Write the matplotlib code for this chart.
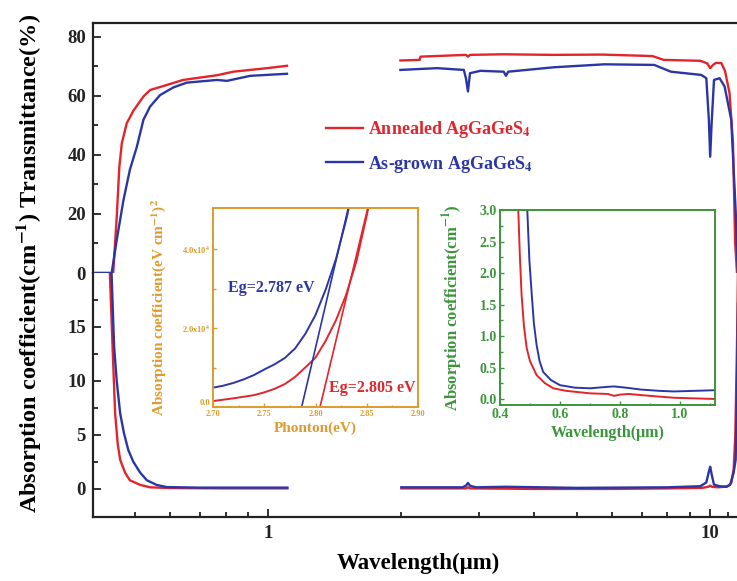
import numpy as np
import matplotlib
matplotlib.use("Agg")
import matplotlib.pyplot as plt
from matplotlib.ticker import FixedLocator, NullFormatter, MultipleLocator

plt.rcParams["font.family"] = ["Liberation Serif", "DejaVu Serif"]
plt.rcParams["font.weight"] = "bold"
plt.rcParams["axes.labelweight"] = "bold"
plt.rcParams["mathtext.fontset"] = "stix"

RED = "#e3242b"
BLUE = "#2b36a6"
ORANGE = "#e09a2c"
GREEN = "#3a963a"

# Transmittance (%), UV-VIS-NIR part
wl_t1_red = [0.40, 0.4455, 0.4538, 0.460, 0.466, 0.478, 0.495, 0.5215, 0.540, 0.589, 0.641, 0.765, 0.833, 0.993, 1.102]
t1_red = [0, 0, 19, 36, 44, 50.7, 55, 59.8, 62, 63.7, 65.4, 67, 68.2, 69.4, 70.2]
wl_t1_blue = [0.40, 0.442, 0.4538, 0.470, 0.486, 0.504, 0.5215, 0.540, 0.569, 0.610, 0.654, 0.765, 0.806, 0.910, 1.102]
t1_blue = [0, 0, 11.2, 24.7, 35, 42.8, 51.9, 56.4, 60.3, 62.9, 64.5, 65.4, 65.1, 66.8, 67.5]

# Transmittance (%), IR part
wl_t2_red = [1.99, 2.2, 2.21, 2.8, 2.83, 2.86, 3.4, 4.4, 5.7, 7.4, 7.85, 9.5, 9.85, 10.0, 10.15,
             10.3, 10.6, 10.8, 11.06, 11.26, 11.39, 11.5, 11.6]
t2_red = [72.0, 72.2, 73.3, 73.9, 73.3, 73.9, 74.1, 73.9, 74.0, 73.5, 72.2, 71.9, 71.0, 69.4, 70.5,
          71.2, 71.1, 68.5, 61, 44, 10, 0, 0]
wl_t2_blue = [1.99, 2.41, 2.77, 2.80, 2.83, 2.86, 3.02, 3.41, 3.45, 3.49, 4.43, 5.76, 7.47, 8.15, 9.55,
              9.8, 9.93, 10.0, 10.07, 10.2, 10.5, 10.78, 11.16, 11.42, 11.55]
t2_blue = [68.8, 69.4, 68.8, 66, 61.5, 67.7, 68.5, 68.2, 66.8, 68.2, 69.7, 70.7, 70.5, 68.2, 67.1,
           66, 52, 39.4, 50, 65.4, 66, 63.2, 51.9, 21, 0]

# Absorption coefficient (cm-1)
wl_a1_red = [0.436, 0.444, 0.450, 0.456, 0.462, 0.474, 0.486, 0.513, 0.540, 0.60, 0.80, 1.104]
a1_red = [22, 13.2, 7.0, 4.2, 2.7, 1.5, 0.8, 0.37, 0.15, 0.08, 0.05, 0.05]
wl_a1_blue = [0.440, 0.4476, 0.4538, 0.462, 0.471, 0.482, 0.495, 0.513, 0.531, 0.559, 0.589, 0.70, 0.90, 1.104]
a1_blue = [22, 13.2, 10, 7.0, 5.2, 3.6, 2.5, 1.5, 0.8, 0.37, 0.17, 0.12, 0.12, 0.12]

wl_a2_red = [2.0, 2.8, 2.83, 2.86, 4.0, 6.0, 8.0, 9.6, 9.9, 10.0, 10.1, 10.4, 10.8, 11.0, 11.16,
             11.3, 11.4, 11.5, 11.6]
a2_red = [0.05, 0.05, 0.15, 0.05, 0.0, 0.0, 0.05, 0.1, 0.2, 0.3, 0.2, 0.15, 0.2, 0.3, 0.55,
          1.8, 5, 13.5, 25]
wl_a2_blue = [2.0, 2.75, 2.8, 2.83, 2.86, 2.95, 3.45, 5.0, 8.0, 9.5, 9.8, 9.93, 10.0, 10.07, 10.2,
              10.5, 10.9, 11.1, 11.3, 11.42, 11.5, 11.6]
a2_blue = [0.15, 0.15, 0.3, 0.55, 0.3, 0.15, 0.2, 0.1, 0.15, 0.25, 0.6, 1.6, 2.05, 1.4, 0.4,
           0.25, 0.2, 0.4, 1.5, 2.7, 10, 22]

# Inset 1: Tauc plot, (alpha h nu)^2 in units of 1e4
e_red = [2.70, 2.72, 2.74, 2.75, 2.76, 2.77, 2.78, 2.79, 2.80, 2.81, 2.82, 2.83, 2.84, 2.85, 2.852]
tauc_red = [0.15, 0.22, 0.30, 0.37, 0.46, 0.58, 0.76, 1.0, 1.25, 1.68, 2.2, 2.85, 3.7, 4.85, 5.1]
e_blue = [2.70, 2.71, 2.72, 2.73, 2.74, 2.75, 2.76, 2.77, 2.78, 2.79, 2.80, 2.81, 2.82, 2.83, 2.833]
tauc_blue = [0.49, 0.54, 0.61, 0.70, 0.81, 0.95, 1.08, 1.24, 1.48, 1.85, 2.33, 2.98, 3.75, 4.75, 5.1]
fit_red_e = [2.8044, 2.851]
fit_red_y = [0.0, 5.04]
fit_blue_e = [2.7865, 2.832]
fit_blue_y = [0.0, 5.04]

# Inset 2: absorption coefficient zoom
wl_in_red = [0.455, 0.461, 0.466, 0.472, 0.48, 0.489, 0.50, 0.522, 0.55, 0.578, 0.62, 0.70, 0.76,
             0.78, 0.80, 0.83, 0.90, 0.98, 1.05, 1.12]
in_red = [3.3, 3.0, 2.3, 1.65, 1.15, 0.81, 0.6, 0.38, 0.25, 0.17, 0.13, 0.09, 0.08,
          0.05, 0.07, 0.08, 0.05, 0.02, 0.01, 0.0]
wl_in_blue = [0.488, 0.491, 0.498, 0.506, 0.513, 0.522, 0.532, 0.544, 0.57, 0.60, 0.65, 0.70, 0.75,
              0.78, 0.82, 0.87, 0.93, 0.98, 1.05, 1.12]
in_blue = [3.3, 3.0, 2.2, 1.65, 1.2, 0.86, 0.6, 0.43, 0.3, 0.22, 0.18, 0.17, 0.19,
           0.2, 0.18, 0.15, 0.13, 0.12, 0.13, 0.14]

fig = plt.figure(figsize=(7.37, 5.81), dpi=100)
W, H = 737.0, 581.0

def box(x0, y0, x1, y1):
    return [x0 / W, 1 - y1 / H, (x1 - x0) / W, (y1 - y0) / H]

ax_t = fig.add_axes(box(93, 23, 739, 273))
ax_b = fig.add_axes(box(93, 273, 739, 517), sharex=ax_t)

lw = 1.7
for ax in (ax_t, ax_b):
    ax.set_xscale("log")
    for s in ax.spines.values():
        s.set_linewidth(1.6)
        s.set_color("#222222")
    ax.tick_params(which="both", direction="in", width=1.3, colors="#222222",
                   labelsize=13.5, right=False, top=False)
    ax.tick_params(which="major", length=6)
    ax.tick_params(which="minor", length=3.5)

lr, = ax_t.plot(wl_t1_red, t1_red, color=RED, lw=lw, label=r"Annealed AgGaGeS$_\mathbf{4}$")
lb, = ax_t.plot(wl_t1_blue, t1_blue, color=BLUE, lw=lw, label=r"As-grown AgGaGeS$_\mathbf{4}$")
ax_t.plot(wl_t2_red, t2_red, color=RED, lw=lw)
ax_t.plot(wl_t2_blue, t2_blue, color=BLUE, lw=lw)
ax_b.plot(wl_a1_red, a1_red, color=RED, lw=lw)
ax_b.plot(wl_a1_blue, a1_blue, color=BLUE, lw=lw)
ax_b.plot(wl_a2_red, a2_red, color=RED, lw=lw)
ax_b.plot(wl_a2_blue, a2_blue, color=BLUE, lw=lw)

ax_t.set_xlim(0.401, 11.62)
ax_t.set_ylim(0, 84.7)
ax_b.set_ylim(-2.6, 20)
ax_t.spines["bottom"].set_visible(False)
ax_b.spines["top"].set_visible(False)
ax_t.tick_params(axis="x", which="both", bottom=False, labelbottom=False)
ax_t.set_yticks([0, 20, 40, 60, 80])
ax_t.yaxis.set_minor_locator(FixedLocator([10, 30, 50, 70]))
ax_b.set_yticks([0, 5, 10, 15])
ax_b.yaxis.set_minor_locator(FixedLocator([2.5, 7.5, 12.5, 17.5]))
ax_b.set_xticks([1, 10])
ax_b.set_xticklabels(["1", "10"])
ax_b.xaxis.set_minor_locator(FixedLocator([0.5, 0.6, 0.7, 0.8, 0.9, 2, 3, 4, 5, 6, 7, 8, 9, 11]))
ax_b.xaxis.set_minor_formatter(NullFormatter())
ax_b.tick_params(axis="x", pad=6)
ax_t.tick_params(axis="y", pad=5)
ax_b.tick_params(axis="y", pad=5)

fig.text(0.038, 0.546, r"Absorption coefficient(cm$^{\mathbf{-1}}$) Transmittance(%)",
         rotation=90, ha="center", va="center", fontsize=17.5)
fig.text(0.568, 0.031, "Wavelength(μm)", ha="center", va="center", fontsize=16.5)

leg = ax_t.legend(handles=[lr, lb], loc="upper left", bbox_to_anchor=(0.443, 0.795),
                  bbox_transform=fig.transFigure, frameon=False, fontsize=13,
                  handlelength=2.0, handletextpad=0.3, labelspacing=0.75,
                  borderpad=0, borderaxespad=0, labelcolor="linecolor")

# inset 1
ax1 = fig.add_axes(box(213, 208, 418, 407))
ax1.plot(e_blue, tauc_blue, color=BLUE, lw=1.4)
ax1.plot(e_red, tauc_red, color=RED, lw=1.4)
ax1.plot(fit_blue_e, fit_blue_y, color=BLUE, lw=1.2)
ax1.plot(fit_red_e, fit_red_y, color=RED, lw=1.2)
ax1.set_xlim(2.70, 2.90)
ax1.set_ylim(0, 5.04)
ax1.set_xticks([2.70, 2.75, 2.80, 2.85, 2.90])
ax1.set_xticklabels(["2.70", "2.75", "2.80", "2.85", "2.90"])
ax1.xaxis.set_minor_locator(MultipleLocator(0.025))
ax1.set_yticks([0, 2, 4])
ax1.set_yticklabels(["0.0", r"2.0x10$^{\mathbf{4}}$", r"4.0x10$^{\mathbf{4}}$"])
ax1.yaxis.set_minor_locator(FixedLocator([1, 3]))
for s in ax1.spines.values():
    s.set_color(ORANGE)
    s.set_linewidth(1.4)
ax1.tick_params(which="both", direction="in", colors=ORANGE, labelsize=6, width=1, pad=2)
ax1.tick_params(which="major", length=3)
ax1.tick_params(which="minor", length=1.8)
ax1.get_yticklabels()[0].set_va("bottom")
ax1.set_xlabel("Phonton(eV)", color=ORANGE, fontsize=11, labelpad=3)
ax1.set_ylabel(r"Absorption coefficient(eV cm$^{\mathbf{-1}}$)$^{\mathbf{2}}$", color=ORANGE,
               fontsize=11, labelpad=10)
ax1.text(2.7566, 3.01, "Eg=2.787 eV", color=BLUE, fontsize=11.5, ha="center", va="center")
ax1.text(2.855, 0.48, "Eg=2.805 eV", color=RED, fontsize=11.5, ha="center", va="center")

# inset 2
ax2 = fig.add_axes(box(500, 210, 715, 405))
ax2.plot(wl_in_red, in_red, color=RED, lw=1.4)
ax2.plot(wl_in_blue, in_blue, color=BLUE, lw=1.4)
ax2.set_xlim(0.4, 1.117)
ax2.set_ylim(-0.095, 3.0)
ax2.set_xticks([0.4, 0.6, 0.8, 1.0])
ax2.set_xticklabels(["0.4", "0.6", "0.8", "1.0"])
ax2.xaxis.set_minor_locator(FixedLocator([0.5, 0.7, 0.9, 1.1]))
ax2.set_yticks([0.0, 0.5, 1.0, 1.5, 2.0, 2.5, 3.0])
ax2.set_yticklabels(["0.0", "0.5", "1.0", "1.5", "2.0", "2.5", "3.0"])
ax2.yaxis.set_minor_locator(FixedLocator([0.25, 0.75, 1.25, 1.75, 2.25, 2.75]))
for s in ax2.spines.values():
    s.set_color(GREEN)
    s.set_linewidth(1.4)
ax2.tick_params(which="both", direction="in", colors=GREEN, labelsize=10, width=1, pad=2)
ax2.tick_params(which="major", length=3)
ax2.tick_params(which="minor", length=1.8)
ax2.set_xlabel("Wavelength(μm)", color=GREEN, fontsize=11.5, labelpad=3)
ax2.set_ylabel(r"Absorption coefficient(cm$^{\mathbf{-1}}$)", color=GREEN, fontsize=12, labelpad=11)

fig.savefig("out.png", dpi=100)
